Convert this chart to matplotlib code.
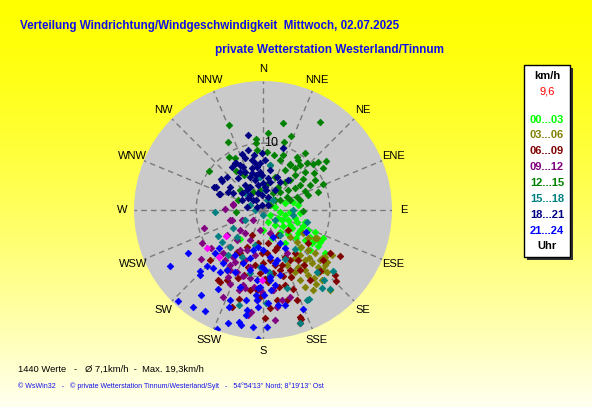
import numpy as np
import matplotlib
matplotlib.use('Agg')
import matplotlib.pyplot as plt
from matplotlib import font_manager
from matplotlib.patches import Rectangle

W, H, DPI = 592, 407, 100

# ---------------- data (direction in degrees, speed in km/h) ----------------
dir_00_03 = [76,72,75,82,97,94,95,125,118,112, 109,106,129,122,118,114,113,115,134,130,
             126,124,123,125,141,142,157,136,130,180, 162,146,218,
             103,104,112,120,119,123,118,120,119]
spd_00_03 = [1.8,3.4,4.6,5.3,2.6,4.0,5.5,1.3,2.5,4.0, 5.4,6.5,3.8,5.1,6.3,7.3,8.4,9.9,5.2,6.5,
             7.7,8.8,9.8,11.3,2.9,4.1,1.9,7.9,9.2,3.0, 4.4,5.9,5.6,
             3.4,4.9,6.4,8.1,4.6,6.3,3.2,9.0,9.8]

dir_03_06 = [135,133,122,118,134,132,130,129,129,123, 140,137,136,135,148,153,157,145,143,140,
             148,152,151,134,156,120,144,140,117,131, 127, 141,136,139,146,145,132]
spd_03_06 = [5.7,7.0,7.9,8.8,8.0,9.0,10.1,11.3,12.3,12.3, 9.7,10.8,11.8,12.7,10.0,10.4,10.9,11.8,12.8,13.7,
             14.1,11.8,13.1,13.4,9.0,6.9,13.6,15.6,9.1,11.3, 11.6, 8.7,10.0,12.5,8.6,10.9,12.4]

dir_06_09 = [123,121,132,134,130,137,126,143,145,143, 155,161,159,159,161,165,171,176,179,161,
             173,182,176,129,149,171,181,157,163,184, 189,195,198,211,207,213,200,208,212,203,
             227,211,189,204,180,171,168,183,175,168, 156,159,195,201,162,
             172,164,152,188,178,164,148,146,196,163]
spd_06_09 = [11.9,13.5,14.5,15.2,11.7,12.4,8.3,10.3,9.1,8.0, 7.7,8.7,12.7,14.4,17.3,13.9,13.6,14.7,16.1,16.9,
             12.0,13.0,10.8,4.8,4.4,5.0,6.4,10.9,10.4,12.0, 12.1,13.8,15.2,12.5,11.7,12.4,10.8,7.3,7.4,6.0,
             10.9,10.4,5.0,4.1,7.9,9.5,11.8,9.4,6.4,8.4, 9.8,5.9,8.8,8.3,17.7,
             7.5,9.3,8.5,8.3,10.4,11.7,10.5,12.6,10.1,6.2]

dir_09_12 = [280,253,253,242,232,235,234,223,222,221, 213,202,193,197,203,193,187,205,184,209,
             208,187,188,172,168,174,195,211,218,245, 225,189,163,173,252,151,163,181,272,281,
             210,200,208,203,190,229,191,197,217,204]
spd_09_12 = [4.5,5.1,9.3,10.4,11.8,6.5,9.7,8.8,7.4,5.9, 8.3,6.4,8.7,10.4,10.0,11.9,11.6,14.3,13.5,10.2,
             11.3,15.3,15.8,14.6,13.7,16.5,11.6,9.6,4.4,3.5, 2.1,3.0,3.6,12.0,4.9,7.3,13.6,12.2,5.7,4.6,
             6.9,7.9,8.8,4.9,6.8,4.5,10.3,12.5,9.4,12.2]

dir_12_15 = [13,33,4,21,17,4,11,20,33,36, 35,43,47,49,52,30,37,48,54,55,
             52,60,67,56,65,72,72,20,33,38, 51,62,11,31,338,333,306,327,332,325,
             332,354,354,351,329,311,292,331,352,266, 354,91,69,31,60,54,
             43,42,56,42,29,50,70,75,62,19,9,39]
spd_12_15 = [13.3,15.7,11.5,11.8,10.6,8.7,8.4,8.7,9.4,10.6, 9.2,9.7,10.2,10.9,11.9,8.0,7.9,8.5,9.4,10.9,
             7.6,9.0,9.8,5.8,6.9,8.6,7.1,5.2,4.1,5.3, 4.8,4.1,4.1,2.9,13.7,11.4,9.9,9.4,8.8,7.1,
             5.9,10.1,9.0,5.0,4.0,4.5,4.0,3.1,3.0,4.0, 10.7,6.0,5.4,7.8,2.9,1.3,
             3.7,6.0,6.7,7.1,6.8,2.3,4.3,5.7,7.9,7.9,6.8,8.7]

dir_15_18 = [268,240,232,239,194,178,154,162,139,139, 131,105,90,174,183,192,204,218,222,140,
             143,153,163,174,180,355,9,349,31,100, 291,22,146,224,313,45,
             6,270,241,130,156,193,141]
spd_15_18 = [7.2,7.8,7.8,5.2,14.7,13.9,15.0,17.7,12.3,13.8, 13.8,6.8,4.5,9.8,8.5,9.6,7.7,8.5,7.4,15.5,
             14.6,15.0,12.2,9.3,0.7,4.9,6.8,4.9,3.5,4.5, 2.1,1.6,4.5,5.6,3.7,2.1,
             3.0,1.2,3.1,2.3,8.1,5.4,7.6]

dir_18_21 = [349,18,339,330,333,335,351,348,350,352, 335,343,349,338,313,305,305,290,296,300,
             309,321,331,296,309,315,281,297,356,0, 359,10,356,9,23,31,40,5,31,344,
             21,341,329,324,306,295,290,297,
             349,9,345,358,14,319,325,349,45,324,322,345,356,2,346,329]
spd_18_21 = [11.4,9.7,8.9,8.1,7.5,7.1,8.3,7.6,7.1,6.5, 6.3,5.8,5.3,5.3,7.3,7.5,6.0,7.0,7.9,5.1,
             4.0,3.8,3.9,3.5,2.9,2.1,2.4,1.0,2.2,4.0, 8.5,6.1,5.7,4.8,5.3,4.9,5.8,3.4,3.5,2.6,
             2.1,8.2,8.2,7.9,7.8,8.1,6.8,5.9,
             3.8,3.0,4.6,5.2,4.3,3.0,1.8,0.8,1.1,4.6,6.1,6.5,7.0,7.5,9.2,6.6]

dir_21_24 = [240,239,223,216,210,216,210,201,226,224, 225,221,215,211,228,229,200,199,192,191,
             197,189,189,184,217,185,182,178,183,184, 185,174,171,167,158,204,197,212,201,194,
             180,172,164,153,160,174,182,174,181,167, 150,188,177,117,
             192,178,185,171,191,179,165,195]
spd_21_24 = [13.0,16.2,18.7,17.9,17.4,15.7,13.6,19.0,13.2,13.6, 11.9,11.4,11.3,10.4,9.6,8.7,14.3,15.4,17.1,17.5,
             17.7,15.9,15.1,13.5,9.9,17.5,19.3,17.5,14.5,11.7, 10.5,10.5,14.4,14.6,15.9,10.2,12.0,7.9,8.5,6.2,
             6.0,7.1,7.8,5.5,4.3,12.0,11.5,10.1,8.5,8.1, 6.6,5.6,13.9,7.3,
             9.2,9.0,12.7,11.3,13.7,12.7,10.0,7.4]

dir_extra = [236,235,223,181]
spd_extra = [10.1,6.7,9.7,10.4]

range_labels = ["00...03","03...06","06...09","09...12","12...15","15...18","18...21","21...24"]
range_colors = ["#00FF00","#808000","#800000","#800080","#008000","#008080","#000080","#0000FF"]
groups = [(dir_00_03, spd_00_03), (dir_03_06, spd_03_06), (dir_06_09, spd_06_09),
          (dir_09_12, spd_09_12), (dir_12_15, spd_12_15), (dir_15_18, spd_15_18),
          (dir_18_21, spd_18_21), (dir_21_24, spd_21_24)]
compass = ["N","NNE","NE","ENE","E","ESE","SE","SSE","S","SSW","SW","WSW","W","WNW","NW","NNW"]
speed_max = 19.3
grid_rings = [10]
current_value = "9,6"

title1 = "Verteilung Windrichtung/Windgeschwindigkeit  Mittwoch, 02.07.2025"
title2 = "private Wetterstation Westerland/Tinnum"
footer1 = "1440 Werte   -   \u00d8 7,1km/h  -  Max. 19,3km/h"
footer2 = "\u00a9 WsWin32   -   \u00a9 private Wetterstation Tinnum/Westerland/Sylt   -   54\u00b054'13'' Nord; 8\u00b019'13'' Ost"

# ---------------- figure ----------------
def has_font(name):
    try:
        font_manager.findfont(font_manager.FontProperties(family=name), fallback_to_default=False)
        return True
    except Exception:
        return False

narrow = 'Liberation Sans Narrow' if has_font('Liberation Sans Narrow') else 'Liberation Sans'
base = 'Liberation Sans'

fig = plt.figure(figsize=(W / DPI, H / DPI), dpi=DPI)

bg = fig.add_axes([0, 0, 1, 1])
bg.set_axis_off()
t = np.linspace(0, 1, H)[:, None, None] ** 1.4
top = np.array([1.0, 1.0, 0.0])
bot = np.array([1.0, 1.0, 0.94])
img = top[None, None, :] * (1 - t) + bot[None, None, :] * t
img = np.repeat(img, 2, axis=1)
bg.imshow(img, aspect='auto', interpolation='bilinear')

def fx(x):
    return x / W
def fy(y):
    return 1 - y / H

cx, cy, rpx = 263, 210, 129
ax = fig.add_axes([fx(cx - rpx), fy(cy + rpx), 2 * rpx / W, 2 * rpx / H], projection='polar')
ax.set_theta_zero_location('N')
ax.set_theta_direction(-1)
ax.set_facecolor('#CACACA')
ax.spines['polar'].set_visible(False)
ax.set_ylim(0, speed_max)
ax.set_xticks(np.deg2rad(np.arange(0, 360, 22.5)))
ax.set_xticklabels([])
ax.set_yticks(grid_rings)
ax.set_yticklabels([])
ax.grid(True, color='#7A7A7A', linestyle=(0, (4, 3)), linewidth=1.0)
ax.tick_params(length=0)

for (d, s), col in zip(groups, range_colors):
    ax.scatter(np.deg2rad(d), s, marker='D', s=11, c=col, linewidths=0.6, edgecolors=col, zorder=3)
ax.scatter(np.deg2rad(dir_extra), spd_extra, marker='D', s=11, c='#FF00FF', linewidths=0.6,
           edgecolors='#FF00FF', zorder=3)

lab_r = speed_max * 141 / 129
for i, name in enumerate(compass):
    ax.text(np.deg2rad(i * 22.5), lab_r, name, ha='center', va='center', fontsize=8,
            family=base, color='black', clip_on=False)
ax.text(np.deg2rad(7.2), 10.1, "10", ha='center', va='center', fontsize=9, family=base,
        color='black', zorder=4)

# titles
rend = fig.canvas.get_renderer()
def fit(txt, width):
    bb = txt.get_window_extent(renderer=rend)
    txt.set_fontsize(txt.get_fontsize() * width / bb.width)

t1 = fig.text(fx(20), fy(26), title1, ha='left', va='center', fontsize=10, weight='bold',
              family=narrow, color='#1010E8')
fit(t1, 380)
t2 = fig.text(fx(215), fy(50), title2, ha='left', va='center', fontsize=10, weight='bold',
              family=narrow, color='#1010E8')
fit(t2, 228)

f1 = fig.text(fx(18), fy(369), footer1, ha='left', va='center', fontsize=8, family=base, color='black')
fit(f1, 186)
f2 = fig.text(fx(18), fy(386), footer2, ha='left', va='center', fontsize=6, family=base, color='#1010E8')
fit(f2, 309)

# legend box
bx0, by0, bx1, by1 = 524, 65, 570, 257
fig.patches.append(Rectangle((fx(bx0 + 3), fy(by1 + 3)), (bx1 - bx0) / W, (by1 - by0) / H,
                             transform=fig.transFigure, facecolor='#303030', edgecolor='none', zorder=1))
fig.patches.append(Rectangle((fx(bx0), fy(by1)), (bx1 - bx0) / W, (by1 - by0) / H,
                             transform=fig.transFigure, facecolor='white', edgecolor='black',
                             linewidth=1, zorder=2))
lx = 547
fig.text(fx(lx), fy(76), "km/h", ha='center', va='center', fontsize=8, weight='bold', family=base, color='black')
fig.text(fx(lx), fy(92), current_value, ha='center', va='center', fontsize=8, family=base, color='#FF0000')
ys = [120, 135, 151, 167, 183, 199, 215, 231]
for lab, col, yy in zip(range_labels, range_colors, ys):
    fig.text(fx(lx), fy(yy), lab, ha='center', va='center', fontsize=8, weight='bold',
             family=base, color=col)
fig.text(fx(lx), fy(246), "Uhr", ha='center', va='center', fontsize=8, weight='bold', family=base, color='black')

fig.savefig('out.png', dpi=DPI)
